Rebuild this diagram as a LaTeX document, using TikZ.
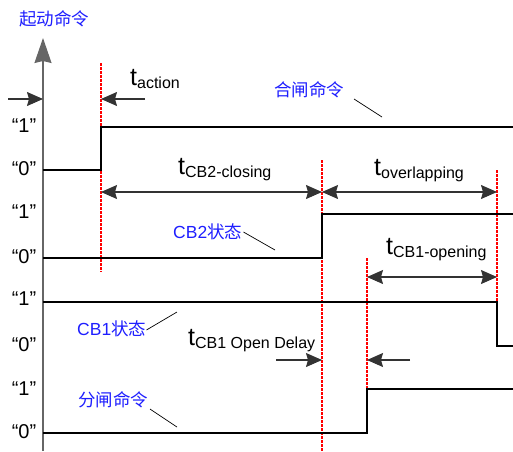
\documentclass[tikz,border=0pt]{standalone}
\usepackage{fontspec}
\setmainfont{Liberation Sans}
\newfontfamily\cjk{Noto Sans CJK SC}
\usetikzlibrary{arrows.meta}
\definecolor{lblblue}{RGB}{30,30,255}
\tikzset{
  sig/.style={line width=2.3pt, line join=miter},
  axisline/.style={draw=gray!80!black, line width=1.3pt},
  reddash/.style={draw=red, line width=1.3pt, dash pattern=on 2.5pt off 1.5pt},
  dimarrow/.style={draw=black!80, line width=1.1pt},
  leader/.style={draw=black, line width=0.7pt},
  cnlabel/.style={text=lblblue, font=\cjk\fontsize{17.5}{17.5}\selectfont, inner sep=0pt},
  cblabel/.style={text=lblblue, font=\fontsize{17.5}{17.5}\selectfont, inner sep=0pt},
  lvl/.style={font=\fontsize{20}{20}\selectfont, inner sep=0pt},
  tlabel/.style={anchor=base west, inner sep=0pt}
}
\newcommand{\tlab}[1]{{\fontsize{25}{25}\selectfont t}\raisebox{-3pt}{\fontsize{16}{16}\selectfont #1}}
\begin{document}
\begin{tikzpicture}[x=1pt,y=-1pt,>={Stealth[length=16pt,width=14pt,inset=2pt]}]
\useasboundingbox (0,0) rectangle (513,451);
% axis
\coordinate (axB) at (43,451);
\coordinate (axT) at (43,38);
\draw[axisline, -{Stealth[length=25pt,width=17pt,inset=2pt]}] (axB) -- (axT);
\node[cnlabel] (title) at (54,19) {起动命令};
\coordinate (la) at (8,99);
\coordinate (laT) at (43,99);
\draw[dimarrow, ->] (la) -- (laT);
% level labels
\node[lvl] (l1) at (24,126) {“1”};
\node[lvl] (l2) at (24,169) {“0”};
\node[lvl] (l3) at (24,212) {“1”};
\node[lvl] (l4) at (24,257) {“0”};
\node[lvl] (l5) at (24,299) {“1”};
\node[lvl] (l6) at (24,345) {“0”};
\node[lvl] (l7) at (24,389) {“1”};
\node[lvl] (l8) at (24,432) {“0”};
% red dashed
\coordinate (r1a) at (101,63);  \coordinate (r1b) at (101,272);
\coordinate (r2a) at (322,160); \coordinate (r2b) at (322,451);
\coordinate (r3a) at (367,258); \coordinate (r3b) at (367,389);
\coordinate (r4a) at (497,170); \coordinate (r4b) at (497,302);
\draw[reddash] (r1a) -- (r1b);
\draw[reddash] (r2a) -- (r2b);
\draw[reddash] (r3a) -- (r3b);
\draw[reddash] (r4a) -- (r4b);
% signals
\coordinate (s1a) at (43,170); \coordinate (s1b) at (101,170); \coordinate (s1c) at (101,127); \coordinate (s1d) at (513,127);
\draw[sig] (s1a) -- (s1b) -- (s1c) -- (s1d);
\coordinate (s2a) at (43,258); \coordinate (s2b) at (322,258); \coordinate (s2c) at (322,214); \coordinate (s2d) at (513,214);
\draw[sig] (s2a) -- (s2b) -- (s2c) -- (s2d);
\coordinate (s3a) at (43,302); \coordinate (s3b) at (497,302); \coordinate (s3c) at (497,346); \coordinate (s3d) at (513,346);
\draw[sig] (s3a) -- (s3b) -- (s3c) -- (s3d);
\coordinate (s4a) at (43,433); \coordinate (s4b) at (367,433); \coordinate (s4c) at (367,389); \coordinate (s4d) at (513,389);
\draw[sig] (s4a) -- (s4b) -- (s4c) -- (s4d);
% dimension arrows
\coordinate (ta1) at (145,99); \coordinate (ta2) at (101,99);
\draw[dimarrow, ->] (ta1) -- (ta2);
\node[tlabel] (tact) at (130,85) {\tlab{action}};
\coordinate (c2a) at (101,192); \coordinate (c2b) at (322,192);
\draw[dimarrow, <->] (c2a) -- (c2b);
\node[tlabel] (tcb2) at (178,174) {\tlab{CB2-closing}};
\coordinate (ova) at (322,192); \coordinate (ovb) at (497,192);
\draw[dimarrow, <->] (ova) -- (ovb);
\node[tlabel] (tov) at (374,175) {\tlab{overlapping}};
\coordinate (opa) at (367,277); \coordinate (opb) at (497,277);
\draw[dimarrow, <->] (opa) -- (opb);
\node[tlabel] (tcb1) at (386,254) {\tlab{CB1-opening}};
\coordinate (od1) at (276,360); \coordinate (od2) at (322,360);
\coordinate (od3) at (410,360); \coordinate (od4) at (367,360);
\draw[dimarrow, ->] (od1) -- (od2);
\draw[dimarrow, ->] (od3) -- (od4);
\node[tlabel] (tdel) at (188,345) {\tlab{CB1 Open Delay}};
% annotations
\node[cnlabel] (hz) at (309,90) {合闸命令};
\coordinate (hzl) at (382,117);
\draw[leader] (354,99) -- (hzl);
\node[cblabel, anchor=west] (cb2) at (173,232) {CB2{\cjk 状态}};
\coordinate (cb2l) at (275,250);
\draw[leader] (cb2.east) ++(1,0) -- (cb2l);
\node[cblabel, anchor=west] (cb1) at (77,329) {CB1{\cjk 状态}};
\coordinate (cb1l) at (177,312);
\draw[leader] (cb1.east) ++(0,1) -- (cb1l);
\node[cnlabel] (fz) at (113,400) {分闸命令};
\coordinate (fzl) at (177,427);
\draw[leader] (150,409) -- (fzl);
\end{tikzpicture}
\end{document}
